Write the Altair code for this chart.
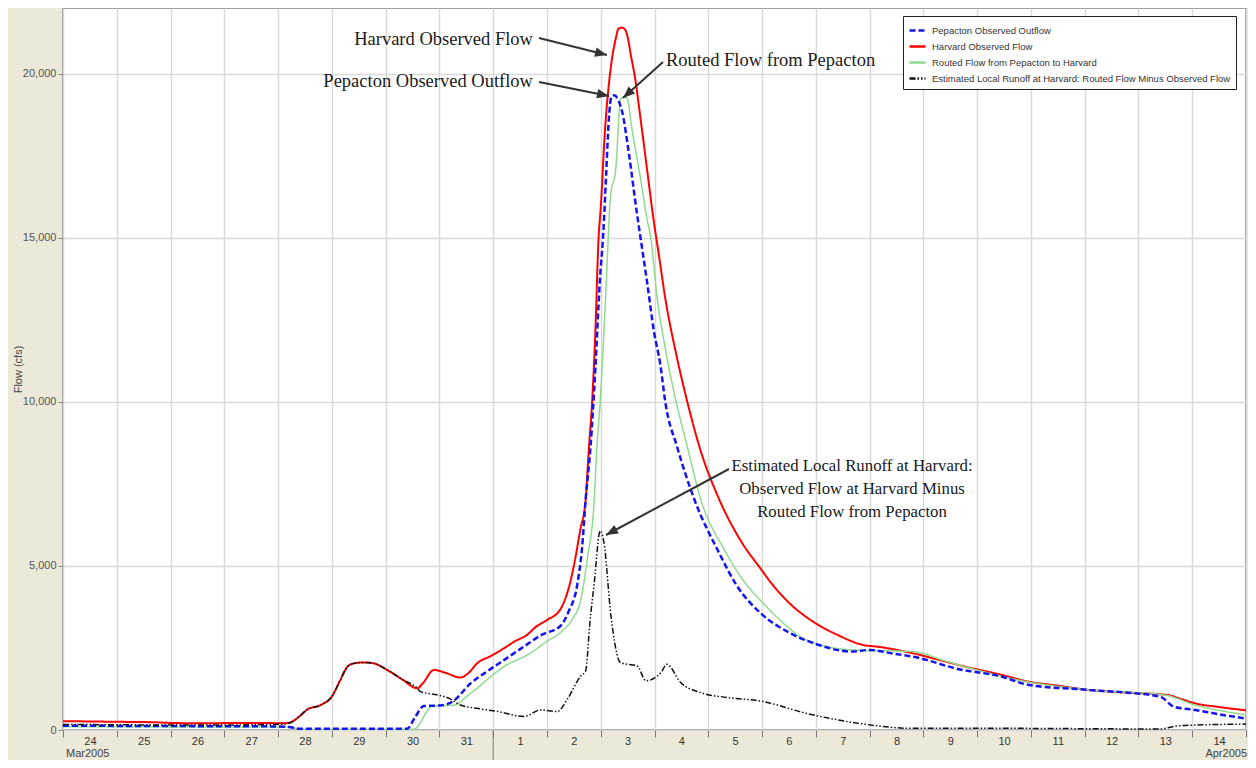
import math
import altair as alt
import pandas as pd

# ---------------- data (days since 2005-03-24 00:00, flow in cfs) ----------------
SERIES = [
    "Pepacton Observed Outflow",
    "Harvard Observed Flow",
    "Routed Flow from Pepacton to Harvard",
    "Estimated Local Runoff at Harvard: Routed Flow Minus Observed Flow",
]
COLORS = ["#1414F0", "#FF0000", "#8FDA8F", "#111111"]
DASHES = [[6, 3], [1, 0], [1, 0], [6, 2, 1.5, 2, 1.5, 2]]
WIDTHS = [2.5, 2.0, 1.5, 1.5]

PEP_T = [0, 1, 2, 3, 3.9, 4.2, 4.4, 5.5, 6.4, 6.55,
         6.71, 7.02, 7.24, 7.58, 7.9, 8.2, 8.57, 8.9, 9.25, 9.4,
         9.57, 9.65, 9.72, 9.81, 9.9, 9.98, 10.05, 10.1, 10.15, 10.2,
         10.25, 10.34, 10.4, 10.52, 10.67, 10.74, 10.86, 10.99, 11.11, 11.2,
         11.42, 11.74, 12.2, 12.51, 12.98, 13.49, 13.95, 14.68, 15.0, 15.4,
         15.93, 16.59, 17.44, 17.97, 19.09, 20.4, 20.66, 21.06, 21.5, 22]
PEP_Q = [130, 125, 120, 115, 110, 90, 40, 40, 40, 400,
         730, 750, 860, 1420, 1800, 2130, 2540, 2900, 3170, 3600,
         4490, 5500, 7030, 8630, 11000, 13600, 15200, 16900, 18600, 19300,
         19340, 19140, 18830, 17610, 15780, 15000, 13670, 12140, 11120, 10000,
         8630, 7030, 5400, 4450, 3550, 2980, 2650, 2390, 2440, 2340,
         2190, 1880, 1630, 1370, 1220, 1020, 710, 610, 480, 350]

HAR_T = [0, 1, 1.7, 2.0, 2.5, 3.0, 3.5, 3.9, 4.1, 4.24,
         4.4, 4.54, 4.79, 5.0, 5.15, 5.29, 5.41, 5.6, 5.78, 6.03,
         6.3, 6.59, 6.68, 6.9, 7.1, 7.39, 7.55, 7.7, 7.95, 8.2,
         8.4, 8.63, 8.8, 9.0, 9.25, 9.4, 9.5, 9.62, 9.72, 9.78,
         9.84, 9.9, 9.96, 10.0, 10.08, 10.15, 10.21, 10.28, 10.33, 10.4,
         10.46, 10.52, 10.55, 10.64, 10.74, 10.86, 10.98, 11.08, 11.2, 11.42,
         11.61, 11.86, 12.17, 12.61, 12.98, 13.16, 13.5, 13.95, 14.4, 14.88,
         15.14, 15.8, 16.3, 16.78, 17.4, 17.97, 18.5, 19.09, 19.8, 20.53,
         20.8, 21.06, 21.5, 22]
HAR_Q = [270, 250, 235, 215, 205, 210, 215, 210, 205, 240,
         420, 620, 760, 1020, 1500, 1930, 2030, 2060, 2030, 1830,
         1550, 1270, 1400, 1830, 1750, 1600, 1750, 2030, 2250, 2490,
         2700, 2900, 3150, 3350, 3680, 4300, 5000, 6100, 7030, 8600,
         10000, 12140, 15000, 15900, 18300, 19650, 20460, 21070, 21370, 21400,
         21320, 20960, 20660, 19850, 18630, 17100, 15580, 14490, 13160, 11330,
         10000, 8500, 7150, 5750, 4900, 4500, 3880, 3300, 2900, 2590,
         2540, 2340, 2130, 1930, 1700, 1470, 1350, 1220, 1140, 1070,
         940, 810, 700, 600]

RTE_T = [0, 2, 4.2, 4.45, 6.52, 6.87, 7.27, 7.58, 8.2, 8.69,
         9.0, 9.25, 9.46, 9.63, 9.75, 9.88, 9.93, 9.99, 10.09, 10.18,
         10.28, 10.37, 10.43, 10.49, 10.58, 10.74, 10.86, 10.93, 11.05, 11.2,
         11.36, 11.61, 11.86, 12.3, 12.7, 13.0, 13.3, 13.82, 14.68, 15.8,
         16.45, 17.77, 19.09, 20.47, 21.06, 22]
RTE_Q = [100, 95, 90, 20, 20, 730, 760, 1120, 1930, 2340,
         2700, 2970, 3350, 3980, 5200, 7030, 8630, 10000, 13160, 16220,
         17100, 19240, 19290, 19240, 18320, 16800, 15580, 15000, 13160, 11630,
         10310, 8630, 7030, 5490, 4450, 3900, 3400, 2750, 2440, 2390,
         2080, 1520, 1220, 1070, 760, 460]

LOC_T = [0, 1, 2, 3, 3.5, 3.9, 4.1, 4.24, 4.4, 4.54,
         4.79, 5.0, 5.15, 5.29, 5.41, 5.6, 5.78, 6.03, 6.3, 6.59,
         6.65, 6.96, 7.2, 7.39, 7.7, 8.1, 8.57, 8.88, 9.19, 9.38,
         9.63, 9.72, 9.8, 9.88, 9.99, 10.06, 10.19, 10.37, 10.68, 10.84,
         11.12, 11.23, 11.49, 11.86, 12.36, 12.98, 13.82, 14.81, 15.8, 17.77,
         19.0, 20.4, 20.7, 21.06, 22]
LOC_Q = [170, 160, 150, 150, 160, 170, 180, 230, 420, 620,
         760, 1020, 1500, 1930, 2030, 2060, 2030, 1830, 1550, 1270,
         1170, 1070, 950, 760, 660, 560, 410, 610, 560, 940,
         1650, 1800, 3300, 4490, 6070, 5710, 3480, 2050, 1950, 1500,
         1750, 2000, 1440, 1140, 990, 880, 510, 200, 50, 50,
         40, 30, 120, 150, 180]

Y_TICKS = [0, 5000, 10000, 15000, 20000]
MONTH_TEXT = ["Mar2005", "Apr2005"]
MONTH_T = [0, 22]

ANNOT_TEXT = ["Harvard Observed Flow", "Pepacton Observed Outflow", "Routed Flow from Pepacton",
              "Estimated Local Runoff at Harvard:", "Observed Flow at Harvard Minus",
              "Routed Flow from Pepacton"]
ANNOT_T = [8.74, 8.74, 11.214, 14.673, 14.673, 14.673]
ANNOT_Q = [21055, 19775, 20415, 8044, 7343, 6642]
ANNOT_GROUP = ["right", "right", "left", "center", "center", "center"]

ARROW_T0 = [8.852, 8.852, 11.158, 12.385]
ARROW_Q0 = [21085, 19745, 20354, 7953]
ARROW_T1 = [10.117, 10.154, 10.414, 10.098]
ARROW_Q1 = [20567, 19318, 19257, 5942]

# ---------------- layout ----------------
W, H = 1183, 722
DAYS = 22
Y_MAX = 22000
PX_DAY = W / DAYS
PX_CFS = H / Y_MAX
DAY0 = pd.Timestamp("2005-03-24", tz="UTC")


def iso(t):
    return (DAY0 + pd.Timedelta(days=t)).strftime("%Y-%m-%dT%H:%M:%SZ")


def ms(t):
    return int((DAY0 + pd.Timedelta(days=t)).timestamp() * 1000)


rows = []
for name, ts, qs in [(SERIES[0], PEP_T, PEP_Q), (SERIES[1], HAR_T, HAR_Q),
                     (SERIES[2], RTE_T, RTE_Q), (SERIES[3], LOC_T, LOC_Q)]:
    for t, q in zip(ts, qs):
        rows.append({"series": name, "time": iso(t), "q": q})
df = pd.DataFrame(rows)

df_text = pd.DataFrame({"time": [iso(t) for t in ANNOT_T], "q": ANNOT_Q,
                        "text": ANNOT_TEXT, "group": ANNOT_GROUP})

angles = []
for t0, q0, t1, q1 in zip(ARROW_T0, ARROW_Q0, ARROW_T1, ARROW_Q1):
    dx = (t1 - t0) * PX_DAY
    dy = -(q1 - q0) * PX_CFS
    angles.append(math.degrees(math.atan2(dx, -dy)) % 360)
df_arrow = pd.DataFrame({"time": [iso(t) for t in ARROW_T0], "q": ARROW_Q0,
                         "time2": [iso(t) for t in ARROW_T1], "q2": ARROW_Q1})
df_head = pd.DataFrame({"time": [iso(t) for t in ARROW_T1], "q": ARROW_Q1, "angle": angles})
df_month = pd.DataFrame({"time": [iso(t) for t in MONTH_T], "text": MONTH_TEXT})
df_long = pd.DataFrame({"time": [iso(8)]})

FONT = "Liberation Sans"

xscale = alt.Scale(type="utc", domain=[ms(0), ms(DAYS)], nice=False)
yscale = alt.Scale(domain=[0, Y_MAX], nice=False, zero=True)

x_axis = alt.Axis(
    values=[ms(d) for d in range(DAYS + 1)],
    labelExpr=f"datum.value >= {ms(DAYS)} ? '' : utcFormat(datum.value, '%-d')",
    labelOffset=PX_DAY / 2, labelFlush=False, labelOverlap=False,
    tickSize=7, tickColor="#777777", labelPadding=-2,
    labelFont=FONT, labelFontSize=11, labelColor="#333333",
    grid=True, gridColor="#D9D9D9", gridWidth=1.5, domain=False, title=None,
)
y_axis = alt.Axis(
    values=Y_TICKS, format=",.0f", labelFont=FONT, labelFontSize=11, labelColor="#555555",
    tickSize=5, tickColor="#888888", labelPadding=2,
    grid=True, gridColor="#D9D9D9", gridWidth=1.5, domain=False,
    title="Flow (cfs)", titleFont=FONT, titleFontSize=11, titleFontWeight="normal",
    titleColor="#444444", titleX=-45, titleY=H / 2, titleBaseline="middle",
)
X_ENC = alt.X("time:T", scale=xscale, axis=x_axis)
Y_ENC = alt.Y("q:Q", scale=yscale, axis=y_axis)

leg = alt.Legend(
    title=None, orient="none", legendX=840, legendY=8, direction="vertical",
    fillColor="white", strokeColor="#222222", padding=5,
    symbolType="stroke", symbolSize=256, symbolStrokeWidth=2.5,
    labelFont=FONT, labelFontSize=9.5, labelColor="#333333", labelLimit=400,
    rowPadding=1, labelOffset=5,
)

base = alt.Chart(df).encode(
    x=X_ENC, y=Y_ENC,
    color=alt.Color("series:N", scale=alt.Scale(domain=SERIES, range=COLORS), legend=leg),
    strokeDash=alt.StrokeDash("series:N", scale=alt.Scale(domain=SERIES, range=DASHES), legend=leg),
)
lines = [base.transform_filter(alt.datum.series == SERIES[i])
         .mark_line(strokeWidth=WIDTHS[i], interpolate="monotone")
         for i in [1, 2, 0, 3]]

texts = []
for al, fs in [("right", 18.5), ("left", 18.5), ("center", 16.8)]:
    sub = df_text[df_text["group"] == al]
    texts.append(
        alt.Chart(sub).mark_text(align=al, baseline="middle", font="Liberation Serif",
                                 fontSize=fs, color="#1A1A1A")
        .encode(x=X_ENC, y=Y_ENC, text="text:N")
    )

arrows = alt.Chart(df_arrow).mark_rule(color="#333333", strokeWidth=2).encode(
    x=X_ENC, y=Y_ENC, x2=alt.X2("time2:T"), y2=alt.Y2("q2:Q"))
heads = alt.Chart(df_head).mark_point(
    shape="M0,0L0.4,1L-0.4,1Z", filled=True, size=576, color="#333333", opacity=1, strokeWidth=0
).encode(x=X_ENC, y=Y_ENC, angle=alt.Angle("angle:Q", scale=None))

month_l = alt.Chart(df_month[df_month["text"] == "Mar2005"]).mark_text(
    align="left", baseline="alphabetic", dx=3, font=FONT, fontSize=11, color="#444444"
).encode(x=X_ENC, y=alt.value(H + 27), text="text:N")
month_r = alt.Chart(df_month[df_month["text"] == "Apr2005"]).mark_text(
    align="right", baseline="alphabetic", dx=1, font=FONT, fontSize=11, color="#444444"
).encode(x=X_ENC, y=alt.value(H + 27), text="text:N")
long_tick = alt.Chart(df_long).mark_rule(color="#777777", strokeWidth=1).encode(
    x=X_ENC, y=alt.value(H), y2=alt.value(H + 30))

chart = alt.layer(*lines, *texts, arrows, heads, month_l, month_r, long_tick).properties(
    width=W, height=H,
    padding={"left": 55, "top": 0, "right": 2, "bottom": 30},
    autosize=alt.AutoSizeParams(type="none"),
).configure(background="#ECE9D8").configure_view(stroke="#7F7F7F", strokeWidth=1.5, fill="white")

chart.save("out.html", embed_options={"renderer": "svg", "actions": False})
